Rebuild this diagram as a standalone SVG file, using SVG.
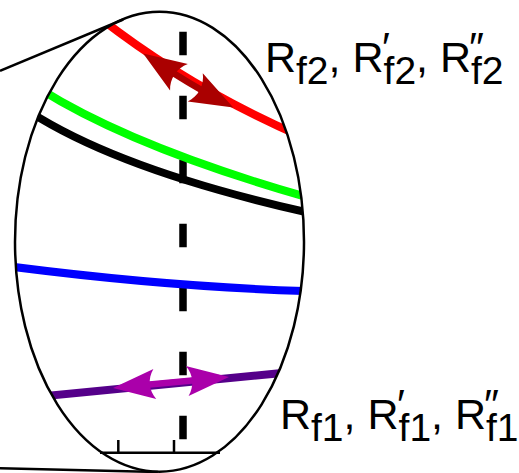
<svg xmlns="http://www.w3.org/2000/svg" width="519" height="473" viewBox="0 0 519 473">
<style>
.outline{fill:none;stroke:#000;stroke-width:2.5}
.curve{fill:none;stroke-width:8;stroke-linecap:butt}
.lbl{font-family:"Liberation Sans",Arial,sans-serif;font-size:43px;fill:#000}
.sub{font-size:39px}
.pr{font-size:42px}
</style>
<defs>
<clipPath id="lensClip"><ellipse cx="159.5" cy="241.7" rx="144.5" ry="230"/></clipPath>
<marker id="headRed" markerUnits="userSpaceOnUse" markerWidth="60" markerHeight="60" refX="0" refY="0" orient="auto-start-reverse" overflow="visible">
<path d="M -33,16 L 10,0 L -33,-16 C -26,-6.5 -26,6.5 -33,16 Z" fill="#aa0000"/>
</marker>
<marker id="headMag" markerUnits="userSpaceOnUse" markerWidth="60" markerHeight="60" refX="0" refY="0" orient="auto-start-reverse" overflow="visible">
<path d="M -32,15 L 10,0 L -32,-15 C -25.3,-6 -25.3,6 -32,15 Z" fill="#aa00aa"/>
</marker>
</defs>
<rect width="519" height="473" fill="#fff"/>
<g id="lens">
<line class="outline" x1="0" y1="70.8" x2="123.2" y2="19.5"/>
<line class="outline" x1="0" y1="468.3" x2="157.9" y2="472"/>
</g>
<g id="axis">
<line class="outline" x1="100" y1="452.7" x2="220" y2="452.7"/>
<line class="outline" x1="118.3" y1="440" x2="118.3" y2="452.7"/>
<line class="outline" x1="174" y1="440" x2="174" y2="452.7"/>
</g>
<g id="dashed">
<line x1="183" y1="31.7" x2="183" y2="440" stroke="#000" stroke-width="7.5" stroke-dasharray="23.5 40.5"/>
</g>
<g id="curves" clip-path="url(#lensClip)">
<path id="red" class="curve" stroke="#ff0000" d="M 100,18 Q 190,88 300,136"/>
<path id="green" class="curve" stroke="#00ff00" d="M 40,89 Q 134,148 310,198"/>
<path id="black" class="curve" stroke="#000000" d="M 30,112 Q 122,171 310,213"/>
<path id="blue" class="curve" stroke="#0000ff" d="M 10,266.5 Q 169,287 310,291.2"/>
<path id="purple" class="curve" stroke="#55008a" d="M 10,399.4 L 310,370.3"/>
</g>
<g id="connectors">
<path d="M 151.5,59 Q 189,84 224.4,102.8" fill="none" stroke="#aa0000" stroke-width="6.5" marker-start="url(#headRed)" marker-end="url(#headRed)"/>
<path d="M 122.96,387.06 L 219.04,377.94" fill="none" stroke="#aa00aa" stroke-width="6.5" marker-start="url(#headMag)" marker-end="url(#headMag)"/>
</g>
<g id="lens-outline">
<ellipse class="outline" cx="159.5" cy="241.7" rx="144.5" ry="230"/>
</g>
<g id="label-f2">
<text class="lbl" y="72"><tspan x="265">R</tspan><tspan class="sub" x="296" dy="12">f2</tspan><tspan x="328.6" dy="-12">, R</tspan><tspan class="pr" x="382" dy="-10">′</tspan><tspan class="sub" x="383.6" dy="22">f2</tspan><tspan x="416" dy="-12">, R</tspan><tspan class="pr" x="469" dy="-10">″</tspan><tspan class="sub" x="471" dy="22">f2</tspan></text>
</g>
<g id="label-f1">
<text class="lbl" y="429"><tspan x="280">R</tspan><tspan class="sub" x="311" dy="12">f1</tspan><tspan x="343.6" dy="-12">, R</tspan><tspan class="pr" x="397" dy="-10">′</tspan><tspan class="sub" x="398.6" dy="22">f1</tspan><tspan x="431" dy="-12">, R</tspan><tspan class="pr" x="484" dy="-10">″</tspan><tspan class="sub" x="486" dy="22">f1</tspan></text>
</g>
</svg>
